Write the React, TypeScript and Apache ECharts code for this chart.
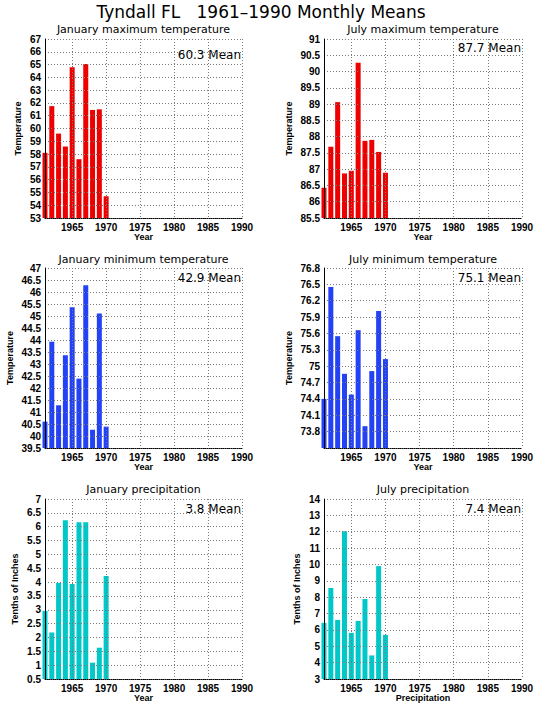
import React, { useEffect, useRef } from "react";
import * as echarts from "echarts";

const years: string[] = [];
for (let y = 1961; y <= 1990; y++) years.push(String(y));

const janMax = [58.1, 61.75, 59.6, 58.6, 64.8, 57.6, 65.05, 61.45, 61.5, 54.7];
const julMax = [86.43, 87.69, 89.06, 86.87, 86.95, 90.27, 87.87, 87.9, 87.53, 86.89];
const janMin = [40.6, 43.93, 41.28, 43.36, 45.36, 42.39, 46.28, 40.26, 45.1, 40.39];
const julMin = [74.4, 76.45, 75.55, 74.86, 74.48, 75.66, 73.9, 74.91, 76.01, 75.13];
const janPrcp = [2.96, 2.18, 3.97, 6.23, 3.93, 6.16, 6.16, 1.09, 1.63, 4.22];
const julPrcp = [6.43, 8.56, 6.61, 12.03, 5.82, 6.55, 7.89, 4.44, 9.9, 5.7];

const panelTitles = [
  "January maximum temperature",
  "July maximum temperature",
  "January minimum temperature",
  "July minimum temperature",
  "January precipitation",
  "July precipitation",
];
const means = ["60.3", "87.7", "42.9", "75.1", "3.8", "7.4"];
const yMins = [53, 85.5, 39.5, 73.5, 0.5, 3];
const yMaxs = [67, 91, 47, 76.8, 7, 14];
const yIntervals = [1, 0.5, 0.5, 0.3, 0.5, 1];
const yNames = ["Temperature", "Temperature", "Temperature", "Temperature", "Tenths of Inches", "Tenths of Inches"];
const xNames = ["Year", "Year", "Year", "Year", "Year", "Precipitation"];
const seriesData = [janMax, julMax, janMin, julMin, janPrcp, julPrcp];

const RED = "#ee0000";
const BLUE = "#2442f5";
const CYAN = "#00c8c8";
const colors = [RED, RED, BLUE, BLUE, CYAN, CYAN];

// layout
const grids = [
  { left: 45, top: 39, width: 197, height: 179 },
  { left: 324, top: 39, width: 198, height: 179 },
  { left: 45, top: 268, width: 197, height: 180 },
  { left: 324, top: 268, width: 198, height: 180 },
  { left: 45, top: 499, width: 197, height: 180 },
  { left: 324, top: 499, width: 198, height: 180 },
];
const nameGaps = [23, 31, 31, 31, 26, 23];
const meanOffsets = [17, 10, 11, 11, 11, 11];
const subTitleY = [29, 29, 259, 259, 489, 489];

export default function App() {
  const ref = useRef<HTMLDivElement>(null);
  useEffect(() => {
    if (!ref.current) return;
    const chart = echarts.init(ref.current, undefined, { renderer: "svg" });
    const gridLine = { color: "#7a7a7a", width: 1, type: [1, 2] as number[] };
    const tickFont = { fontFamily: "Liberation Sans", fontWeight: "bold" as const, fontSize: 10, color: "#000" };

    const option: any = {
      animation: false,
      backgroundColor: "#ffffff",
      title: [
        {
          text: "Tyndall FL   1961–1990 Monthly Means",
          left: 261,
          top: 3,
          padding: 0,
          textAlign: "center",
          textStyle: { fontFamily: "DejaVu Sans", fontWeight: "normal", fontSize: 17, lineHeight: 18, color: "#000" },
        },
        ...panelTitles.map((t, i) => ({
          text: t,
          left: grids[i].left + grids[i].width / 2,
          top: subTitleY[i] - 6,
          padding: 0,
          textAlign: "center",
          textStyle: { fontFamily: "DejaVu Sans", fontWeight: "normal", fontSize: 11, lineHeight: 12, color: "#000" },
        })),
      ],
      grid: grids.map((g) => ({ ...g, containLabel: false })),
      xAxis: grids.map((_, i) => ({
        type: "category",
        gridIndex: i,
        data: years,
        boundaryGap: false,
        z: 3,
        name: xNames[i],
        nameLocation: "middle",
        nameGap: 12,
        nameTextStyle: { ...tickFont, fontSize: 9, verticalAlign: "top" },
        axisLine: { show: true, lineStyle: { color: "#000", width: 1, type: [1, 1] } },
        axisTick: { show: false },
        axisLabel: {
          ...tickFont,
          margin: 4,
          interval: (idx: number, v: string) => Number(v) % 5 === 0,
        },
        splitLine: {
          show: true,
          interval: (idx: number, v: string) => Number(v) % 5 === 0,
          lineStyle: gridLine,
        },
      })),
      yAxis: grids.map((_, i) => ({
        type: "value",
        gridIndex: i,
        min: yMins[i],
        max: yMaxs[i],
        interval: yIntervals[i],
        z: 3,
        name: yNames[i],
        nameLocation: "middle",
        nameGap: nameGaps[i],
        nameRotate: 90,
        nameTextStyle: { ...tickFont, fontSize: 9 },
        axisLine: { show: true, lineStyle: { color: "#000", width: 1 } },
        axisTick: { show: false },
        axisLabel: {
          ...tickFont,
          margin: 4,
          formatter: (v: number) =>
            i === 3 && Math.abs(v - yMins[i]) < 1e-6 ? "" : String(Number(v.toFixed(2))),
        },
        splitLine: { show: true, lineStyle: gridLine },
      })),
      series: seriesData.map((d, i) => ({
        type: "bar",
        xAxisIndex: i,
        yAxisIndex: i,
        data: d,
        barWidth: 5,
        clip: true,
        itemStyle: { color: colors[i] },
        z: 2,
      })),
      graphic: means.map((m, i) => ({
        type: "text",
        right: 541 - (grids[i].left + grids[i].width) + 1,
        top: grids[i].top + meanOffsets[i] - 7,
        style: {
          text: m + " Mean",
          font: "12px 'DejaVu Sans'",
          fill: "#000",
        },
      })),
    };
    chart.setOption(option);
    return () => chart.dispose();
  }, []);
  return (
    <div
      ref={ref}
      style={{ position: "absolute", left: 0, top: 0, width: 541, height: 711, background: "#fff" }}
    />
  );
}
